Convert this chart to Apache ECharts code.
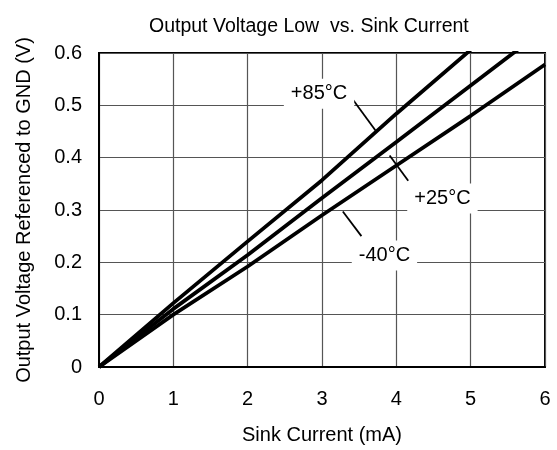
<!DOCTYPE html>
<html>
<head>
<meta charset="utf-8">
<script src="https://cdn.jsdelivr.net/npm/echarts@6/dist/echarts.min.js"></script>
<style>
  html, body { margin: 0; padding: 0; background: #fff; }
  #chart { width: 557px; height: 450px; }
</style>
</head>
<body>
<div id="chart"></div>
<script>
// sink current (mA) and output low voltage (V) per temperature
const current = [0, 1, 2, 3, 4, 5, 6];
const volt85 = [0, 0.122, 0.240, 0.357, 0.484, 0.606];
const volt25 = [0, 0.111, 0.214, 0.323, 0.430, 0.538, 0.646];
const voltM40 = [0, 0.100, 0.192, 0.290, 0.385, 0.480, 0.578];

const tempLabels = ['+85°C', '+25°C', '-40°C'];
const labelAt = [[2.96, 0.522], [4.62, 0.322], [3.84, 0.213]];
const arrowFrom = [[3.38, 0.518], [4.16, 0.356], [3.53, 0.250]];
const arrowTo = [[3.73, 0.450], [3.91, 0.404], [3.28, 0.297]];

const FONT = '"Liberation Sans", Arial, sans-serif';

const toPairs = (ys) => ys.map((v, i) => [current[i], v]);

const lineSeries = (name, ys) => ({
  type: 'line',
  name: name,
  data: toPairs(ys),
  showSymbol: false,
  symbol: 'none',
  clip: true,
  lineStyle: { color: '#000', width: 3.8 },
  z: 3
});

const chart = echarts.init(document.getElementById('chart'), null, { renderer: 'canvas' });

const series = [
  lineSeries('+85°C', volt85),
  lineSeries('+25°C', volt25),
  lineSeries('-40°C', voltM40)
];

// arrows + temperature labels hung on the first series
series[0].markLine = {
  silent: true,
  animation: false,
  symbol: ['none', 'arrow'],
  symbolSize: [0, 10],
  label: { show: false },
  lineStyle: { color: '#000', width: 1.8, type: 'solid' },
  data: arrowFrom.map((p, i) => [{ coord: p }, { coord: arrowTo[i] }])
};
series[0].markPoint = {
  silent: true,
  animation: false,
  symbol: 'rect',
  symbolSize: 1,
  itemStyle: { color: 'rgba(0,0,0,0)' },
  label: {
    show: true,
    position: 'inside',
    formatter: (p) => p.name,
    color: '#000',
    fontFamily: FONT,
    fontSize: 20,
    backgroundColor: '#fff',
    padding: [5, 7]
  },
  data: labelAt.map((p, i) => ({ name: tempLabels[i], coord: p }))
};

chart.setOption({
  animation: false,
  backgroundColor: '#fff',
  textStyle: { fontFamily: FONT },
  title: {
    text: 'Output Voltage Low  vs. Sink Current',
    left: 144,
    top: 12,
    textStyle: { fontFamily: FONT, fontSize: 19.5, fontWeight: 'normal', color: '#000' }
  },
  grid: {
    left: 99, right: 12, top: 53, bottom: 81,
    show: true,
    borderColor: '#000',
    borderWidth: 2,
    backgroundColor: '#fff'
  },
  xAxis: {
    type: 'value',
    min: 0, max: 6, interval: 1,
    name: 'Sink Current (mA)',
    nameLocation: 'middle',
    nameGap: 58,
    nameTextStyle: { fontFamily: FONT, fontSize: 20, color: '#000' },
    axisLine: { onZero: false, lineStyle: { color: '#000', width: 2 } },
    axisTick: { show: false },
    axisLabel: { margin: 22, fontFamily: FONT, fontSize: 20, color: '#000' },
    splitLine: { show: true, lineStyle: { color: '#555', width: 1.2 } }
  },
  yAxis: {
    type: 'value',
    min: 0, max: 0.6, interval: 0.1,
    name: 'Output Voltage Referenced to GND (V)',
    nameLocation: 'middle',
    nameGap: 65,
    nameTextStyle: { fontFamily: FONT, fontSize: 20, color: '#000' },
    axisLine: { show: true, lineStyle: { color: '#000', width: 2 } },
    axisTick: { show: false },
    axisLabel: {
      margin: 17, fontFamily: FONT, fontSize: 20, color: '#000',
      formatter: (v) => (v === 0 ? '0' : v.toFixed(1))
    },
    splitLine: { show: true, lineStyle: { color: '#555', width: 1.2 } }
  },
  series: series
});
</script>
</body>
</html>
